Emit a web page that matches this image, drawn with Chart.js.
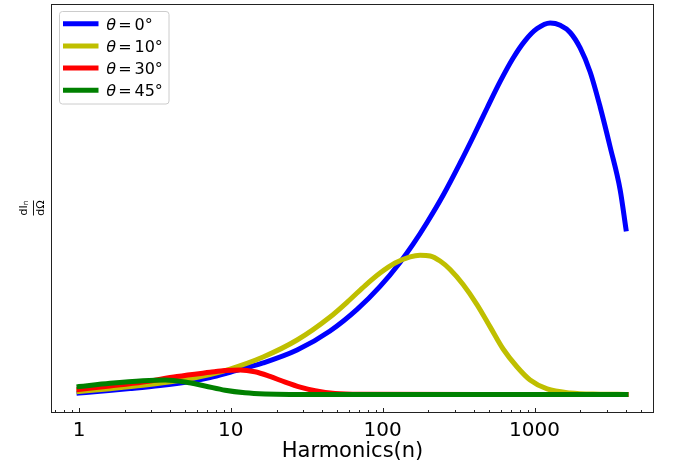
<!DOCTYPE html>
<html><head><meta charset="utf-8">
<script src="https://cdn.jsdelivr.net/npm/chart.js@4"></script>
<style>html,body{margin:0;padding:0;background:#fff;}#c{display:block;}</style>
</head><body>
<canvas id="c" width="673" height="470"></canvas>
<script>
// ---- data ----
const seriesLabels = ['θ = 0°', 'θ = 10°', 'θ = 30°', 'θ = 45°'];
const seriesColors = ['#0000ff', '#bfbf00', '#ff0000', '#008000'];

const nBlue = [1, 1.375, 2.17, 3.42, 5.38, 7.29, 9.88, 16.3, 27.3, 45.0, 67.8, 96.1, 130, 158.6, 196, 250, 323.5, 394, 487, 593, 723, 867, 1040, 1267, 1475, 1716, 1997, 2324, 2705, 3148, 3664, 4000];
const vBlue = [0.38, 0.86, 1.56, 2.37, 3.47, 4.52, 5.95, 8.45, 11.92, 17.05, 22.86, 29.05, 35.50, 40.40, 46.24, 53.55, 62.24, 69.23, 77.03, 84.11, 90.48, 95.16, 98.39, 99.89, 99.30, 97.34, 93.17, 86.72, 77.30, 66.54, 54.98, 44.49];

const nYellow = [1, 1.60, 2.64, 4.42, 7.29, 9.88, 16.3, 27.3, 45.0, 61.0, 76.6, 96.1, 120.7, 151.6, 176.4, 205.3, 238.8, 278, 338.5, 418.8, 510, 621, 768, 935, 1211, 1716, 2705, 4000];
const vYellow = [0.78, 1.54, 2.45, 3.66, 5.35, 6.83, 10.06, 14.63, 20.82, 25.53, 29.29, 32.65, 35.34, 37.01, 37.44, 37.23, 35.88, 33.60, 29.56, 24.10, 18.16, 12.21, 7.37, 3.88, 1.46, 0.38, 0.06, 0];

const nRed = [1, 1.60, 2.64, 4.42, 7.29, 9.16, 11.5, 14.4, 18.1, 22.8, 28.6, 35.9, 48.6, 71, 4000];
const vRed = [1.32, 2.26, 3.34, 4.82, 5.95, 6.43, 6.59, 6.08, 4.82, 3.28, 1.94, 0.97, 0.22, 0.02, 0];

const nGreen = [1, 1.60, 2.64, 3.69, 4.99, 6.76, 9.16, 12.4, 16.8, 24.5, 4000];
const vGreen = [2.10, 2.99, 3.69, 3.88, 3.34, 2.26, 1.11, 0.43, 0.11, 0, 0];

const majorTicks = [1, 10, 100, 1000];
const minorTicks = [0.7, 0.8, 0.9, 2, 3, 4, 5, 6, 7, 8, 9, 20, 30, 40, 50, 60, 70, 80, 90,
  200, 300, 400, 500, 600, 700, 800, 900, 2000, 3000, 4000, 5000, 6000];

const xNames = [nBlue, nYellow, nRed, nGreen];
const yVals = [vBlue, vYellow, vRed, vGreen];

Chart.defaults.font.family = "'DejaVu Sans', sans-serif";
Chart.defaults.color = '#000';

const datasets = seriesLabels.map((lab, i) => ({
  label: lab,
  data: xNames[i].map((n, k) => ({x: n, y: yVals[i][k]})),
  borderColor: seriesColors[i],
  backgroundColor: seriesColors[i],
  borderWidth: 5,
  pointRadius: 0,
  borderCapStyle: 'square',
  borderJoinStyle: 'round',
  cubicInterpolationMode: 'monotone',
  fill: false,
  order: seriesLabels.length - 1 - i
}));

const decor = {
  id: 'decor',
  afterDraw(chart) {
    const ctx = chart.ctx, ca = chart.chartArea, xs = chart.scales.x;
    ctx.save();
    // spines
    ctx.strokeStyle = '#222';
    ctx.lineWidth = 1;
    const L = Math.round(ca.left) + 0.5, R = Math.round(ca.right) - 0.5;
    const T = Math.round(ca.top) + 0.5, B = Math.round(ca.bottom) - 0.5;
    ctx.strokeRect(L, T, R - L, B - T);
    // inward ticks
    const drawTick = (v, len) => {
      const x = xs.getPixelForValue(v);
      if (x < ca.left - 0.5 || x > ca.right + 0.5) return;
      const px = Math.round(x) + 0.5;
      ctx.beginPath(); ctx.moveTo(px, B); ctx.lineTo(px, B - len); ctx.stroke();
    };
    minorTicks.forEach(v => drawTick(v, 2.5));
    majorTicks.forEach(v => drawTick(v, 4.5));

    // y label: dI_n / dΩ
    ctx.save();
    ctx.translate(33.5, 208);
    ctx.rotate(-Math.PI / 2);
    ctx.fillStyle = '#000';
    ctx.strokeStyle = '#000';
    ctx.lineWidth = 0.9;
    ctx.beginPath(); ctx.moveTo(-7.5, 0); ctx.lineTo(7.5, 0); ctx.stroke();
    ctx.textBaseline = 'alphabetic';
    ctx.font = "11px 'DejaVu Sans'";
    const w1 = ctx.measureText('dI').width;
    ctx.font = "7.5px 'DejaVu Sans'";
    const w2 = ctx.measureText('n').width;
    const startN = -(w1 + w2) / 2;
    ctx.font = "11px 'DejaVu Sans'";
    ctx.textAlign = 'left';
    ctx.fillText('dI', startN, -6.6);
    ctx.font = "7.5px 'DejaVu Sans'";
    ctx.fillText('n', startN + w1, -5.2);
    ctx.font = "11px 'DejaVu Sans'";
    ctx.textAlign = 'center';
    ctx.fillText('dΩ', 0, 10.2);
    ctx.restore();

    // legend
    const bx = 59.5, by = 11.5, bw = 109.5, bh = 92.5, r = 3;
    ctx.beginPath();
    ctx.moveTo(bx + r, by);
    ctx.arcTo(bx + bw, by, bx + bw, by + bh, r);
    ctx.arcTo(bx + bw, by + bh, bx, by + bh, r);
    ctx.arcTo(bx, by + bh, bx, by, r);
    ctx.arcTo(bx, by, bx + bw, by, r);
    ctx.closePath();
    ctx.fillStyle = 'rgba(255,255,255,0.8)';
    ctx.fill();
    ctx.strokeStyle = '#cccccc';
    ctx.lineWidth = 1;
    ctx.stroke();
    chart.data.datasets.forEach((ds, i) => {
      const y = 23.7 + i * 22.2;
      ctx.strokeStyle = ds.borderColor;
      ctx.lineWidth = 5;
      ctx.lineCap = 'butt';
      ctx.beginPath(); ctx.moveTo(63, y); ctx.lineTo(98.5, y); ctx.stroke();
      const parts = ds.label.split(' = ');
      ctx.fillStyle = '#000';
      ctx.textAlign = 'left';
      ctx.textBaseline = 'alphabetic';
      ctx.font = "oblique 16px 'DejaVu Sans'";
      ctx.fillText(parts[0], 106.3, y + 5.8);
      ctx.font = "16px 'DejaVu Sans'";
      ctx.fillText('=', 118.3, y + 5.8);
      ctx.fillText(parts[1], 134.5, y + 5.8);
    });
    ctx.restore();
  }
};

new Chart(document.getElementById('c'), {
  type: 'line',
  data: { datasets },
  options: {
    responsive: false,
    animation: false,
    events: [],
    layout: { padding: { left: 51, right: 19, top: 4, bottom: 7.5 } },
    plugins: { legend: { display: false }, tooltip: { enabled: false } },
    scales: {
      x: {
        type: 'logarithmic',
        min: 0.654,
        max: 6120,
        grid: { display: false, drawTicks: false },
        border: { display: false },
        afterBuildTicks: (scale) => {
          scale.ticks = majorTicks.concat(minorTicks).sort((a, b) => a - b).map(v => ({ value: v }));
        },
        ticks: {
          autoSkip: false,
          maxRotation: 0,
          minRotation: 0,
          padding: 6,
          font: { size: 20, lineHeight: 1.2 },
          color: '#000',
          callback: (v) => majorTicks.includes(v) ? String(v) : ''
        },
        title: {
          display: true,
          text: 'Harmonics(n)',
          font: { size: 21, lineHeight: 1.0 },
          color: '#000',
          padding: { top: -7.5, bottom: 0 }
        }
      },
      y: {
        display: false,
        min: -5,
        max: 105
      }
    }
  },
  plugins: [decor]
});
</script>
</body></html>
